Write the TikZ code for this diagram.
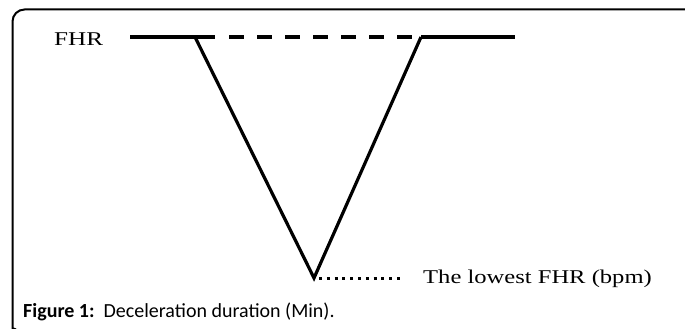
\documentclass[tikz,border=0pt]{standalone}
\usepackage{fontspec}
\setmainfont{Liberation Serif}
\newfontfamily\capfont{Carlito}
\begin{document}
\begin{tikzpicture}[x=1pt,y=-1pt,
  trace/.style={line width=3.2pt},
  frame/.style={line width=2pt},
  lbl/.style={inner sep=0pt,anchor=base west,font=\fontsize{19.5}{22}\selectfont},
  caplbl/.style={inner sep=0pt,anchor=base west,font=\capfont\fontsize{20}{22}\selectfont}]
\useasboundingbox (0,0) rectangle (685,329);
% frame
\draw[frame,rounded corners=12pt] (16,329.5) .. controls (12.5,328) .. (12.5,322) -- (12.5,9.5) -- (686,9.5);
% labels
\node[lbl] (fhr) at (54,46) {\scalebox{1.29}[1]{FHR}};
\node[lbl] (low) at (423,283) {\scalebox{1.26}[1]{The lowest FHR (bpm)}};
\node[caplbl] (cap) at (23,317) {\textbf{Figure 1:}\ \ Deceleration duration (Min).};
% key points
\coordinate (a) at (130,37);
\coordinate (b) at (215,37);
\coordinate (vl) at (195,37);
\coordinate (bot) at (314,278);
\coordinate (vr) at (421,37);
\coordinate (c) at (421,37);
\coordinate (d) at (515,37);
\coordinate (ds) at (229,37);
\coordinate (de) at (415,37);
\coordinate (dots0) at (319,278);
\coordinate (dots1) at (404,278);
\draw[trace] (a) -- (b);
\draw[trace,dash pattern=on 15pt off 13pt] (ds) -- (de);
\draw[trace] (c) -- (d);
\draw[trace,line join=miter] (vl) -- (bot) -- (vr);
\draw[line width=3pt,dash pattern=on 3pt off 4.8pt] (dots0) -- (dots1);
\end{tikzpicture}
\end{document}
